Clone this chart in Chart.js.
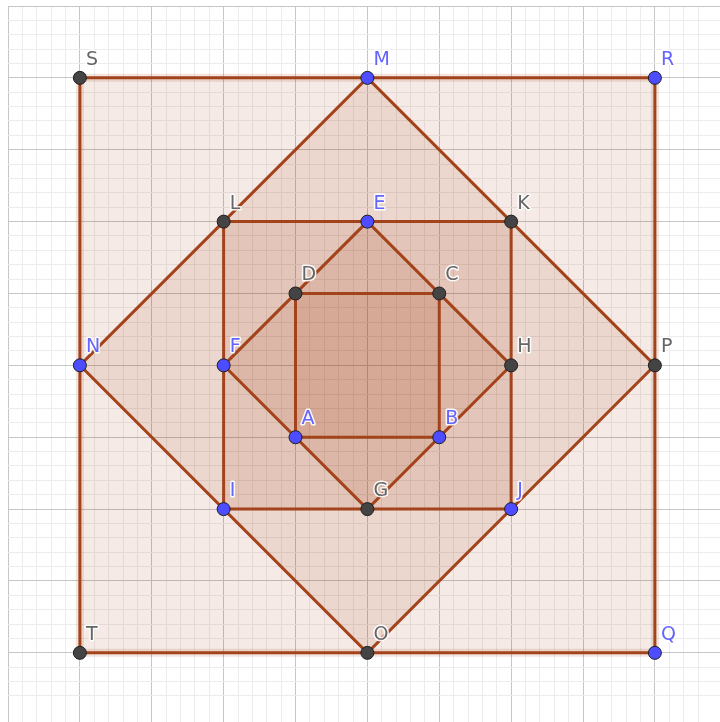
<!DOCTYPE html>
<html>
<head>
<meta charset="utf-8">
<script src="https://cdn.jsdelivr.net/npm/chart.js@4/dist/chart.umd.min.js"></script>
<style>
  html, body { margin: 0; padding: 0; background: #fff; }
  #wrap { width: 720px; height: 722px; }
</style>
</head>
<body>
<div id="wrap"><canvas id="geo"></canvas></div>
<script>
// points of the figure (grid units)
const names = ['A', 'B', 'C', 'D', 'E', 'F', 'G', 'H', 'I', 'J', 'K', 'L', 'M', 'N', 'O', 'P', 'Q', 'R', 'S', 'T'];
const xs = [3, 5, 5, 3, 4, 2, 4, 6, 2, 6, 6, 2, 4, 0, 4, 8, 8, 8, 0, 0];
const ys = [3, 3, 5, 5, 6, 4, 2, 4, 2, 2, 6, 6, 8, 4, 0, 4, 0, 8, 8, 0];
// free points are blue, the others dark grey
const freePoints = ['A', 'B', 'E', 'F', 'I', 'J', 'M', 'N', 'Q', 'R'];

// squares, outermost first
const squares = [
  ['S', 'R', 'Q', 'T'],
  ['M', 'P', 'O', 'N'],
  ['L', 'K', 'J', 'I'],
  ['E', 'H', 'G', 'F'],
  ['A', 'B', 'C', 'D'],
];

const edgeColor = '#a3431c';
const fillColor = 'rgba(153,51,0,0.1)';
const blue = '#4d4dff';
const grey = '#444444';

const pt = (n) => {
  const i = names.indexOf(n);
  return { x: xs[i], y: ys[i] };
};
const ring = (sq) => sq.concat([sq[0]]).map(pt);

const pointData = names.map((n, i) => ({ x: xs[i], y: ys[i], name: n }));
const pointColors = names.map(n => freePoints.includes(n) ? blue : grey);

let datasets = [];
datasets.push({
  data: pointData,
  pointRadius: 6.5,
  pointHoverRadius: 6.5,
  pointBackgroundColor: pointColors,
  pointBorderColor: '#1e1e1e',
  pointBorderWidth: 1,
  showLine: false,
});
squares.slice().reverse().forEach(sq => {
  datasets.push({
    data: ring(sq),
    showLine: true,
    fill: 'shape',
    backgroundColor: fillColor,
    borderColor: edgeColor,
    borderWidth: 3,
    pointRadius: 0,
    tension: 0,
  });
});
// soft highlight around the outer square
datasets.push({
  data: ring(squares[0]),
  showLine: true,
  fill: false,
  borderColor: 'rgba(161,64,26,0.14)',
  borderWidth: 8,
  pointRadius: 0,
});

const isMajor = (v) => Math.abs(v - Math.round(v)) < 1e-6;
const gridColor = (ctx) => isMajor(ctx.tick.value) ? 'rgb(198,198,198)' : 'rgb(236,236,236)';

const pointLabels = {
  id: 'pointLabels',
  afterDatasetsDraw(chart) {
    const ctx = chart.ctx;
    const meta = chart.getDatasetMeta(0);
    ctx.save();
    ctx.font = '19px "DejaVu Sans"';
    ctx.textBaseline = 'alphabetic';
    ctx.lineJoin = 'round';
    meta.data.forEach((el, i) => {
      const n = names[i];
      const tx = el.x + 6;
      const ty = el.y - 13;
      ctx.strokeStyle = 'rgba(255,255,255,0.9)';
      ctx.lineWidth = 3;
      ctx.strokeText(n, tx, ty);
      ctx.fillStyle = freePoints.includes(n) ? '#6464ff' : '#666666';
      ctx.fillText(n, tx, ty);
    });
    ctx.restore();
  }
};

new Chart(document.getElementById('geo'), {
  type: 'scatter',
  data: { datasets: datasets },
  plugins: [pointLabels],
  options: {
    responsive: true,
    maintainAspectRatio: false,
    animation: false,
    events: [],
    layout: { autoPadding: false, padding: { left: 8, top: 6, right: 0, bottom: 0 } },
    plugins: {
      legend: { display: false },
      tooltip: { enabled: false },
    },
    scales: {
      x: {
        type: 'linear',
        min: -1,
        max: 8.906,
        ticks: { display: false, stepSize: 0.2 },
        grid: { color: gridColor, lineWidth: 1, drawTicks: false },
        border: { display: false },
      },
      y: {
        type: 'linear',
        min: -0.962,
        max: 9,
        ticks: { display: false, stepSize: 0.2 },
        grid: { color: gridColor, lineWidth: 1, drawTicks: false },
        border: { display: false },
      },
    },
  },
});
</script>
</body>
</html>
